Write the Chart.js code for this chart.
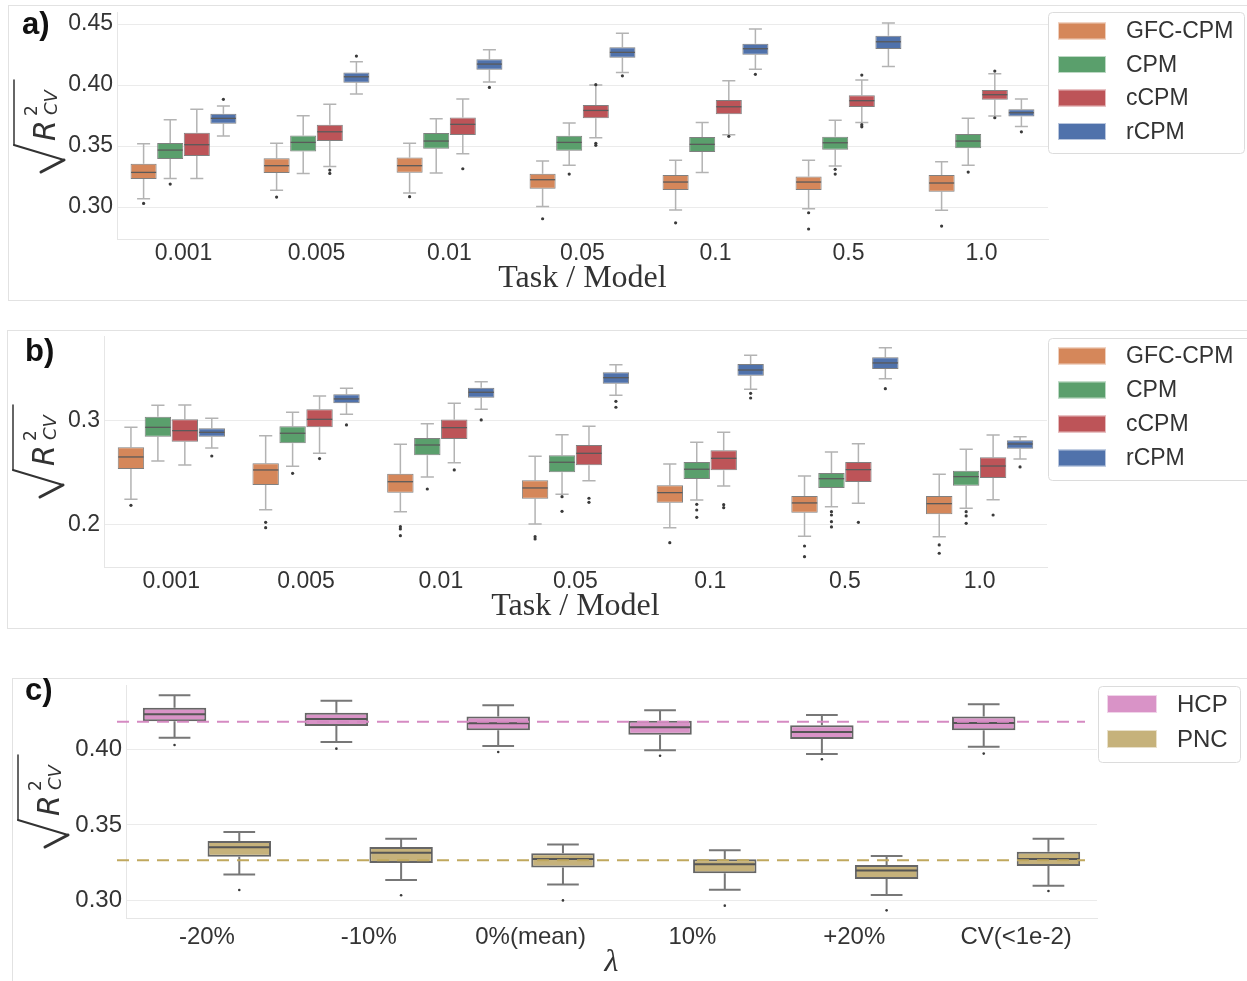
<!DOCTYPE html>
<html>
<head>
<meta charset="utf-8">
<script src="https://cdn.jsdelivr.net/npm/chart.js@4.4.0/dist/chart.umd.min.js"></script>
<style>
    body { margin: 0; background: #fff; width: 1247px; height: 981px; overflow: hidden; position: relative; }
    .frame { position: absolute; border: 1px solid #e2e2e2; box-sizing: border-box; }
    canvas { position: absolute; left: 0; }
</style>
</head>
<body>
<div class="frame" style="left:8px;top:5px;width:1260px;height:296px"></div>
<div class="frame" style="left:7px;top:330px;width:1260px;height:299px"></div>
<div class="frame" style="left:12px;top:678px;width:1260px;height:320px"></div>
<canvas id="chartA" width="1247" height="300" style="top:0"></canvas>
<canvas id="chartB" width="1247" height="298" style="top:330px"></canvas>
<canvas id="chartC" width="1247" height="303" style="top:678px"></canvas>
<script>
// Datos: cada caja = [bigote inf, Q1, mediana, Q3, bigote sup]
const tasks = ['0.001', '0.005', '0.01', '0.05', '0.1', '0.5', '1.0'];
const models = ['GFC-CPM', 'CPM', 'cCPM', 'rCPM'];

// panel a)
const aGfc = [[0.3068,0.3229,0.3284,0.3355,0.3519],[0.3137,0.3279,0.3339,0.3399,0.3522],[0.3115,0.3281,0.3339,0.3407,0.3522],[0.3005,0.3150,0.3224,0.3273,0.3377],[0.2975,0.3139,0.3205,0.3262,0.3383],[0.2986,0.3139,0.3205,0.3251,0.3383],[0.2973,0.3126,0.3197,0.3262,0.3371]];
const aCpm = [[0.3235,0.3393,0.3467,0.3525,0.3716],[0.3276,0.3456,0.3530,0.3587,0.3749],[0.3279,0.3478,0.3541,0.3607,0.3724],[0.3342,0.3461,0.3530,0.3585,0.3688],[0.3284,0.3451,0.3514,0.3574,0.3694],[0.3336,0.3470,0.3527,0.3576,0.3711],[0.3342,0.3481,0.3541,0.3598,0.3727]];
const aCcpm = [[0.3235,0.3418,0.3511,0.3609,0.3801],[0.3333,0.3541,0.3617,0.3675,0.3842],[0.3437,0.3590,0.3678,0.3735,0.3885],[0.3568,0.3727,0.3792,0.3836,0.4000],[0.3593,0.3760,0.3822,0.3877,0.4036],[0.3694,0.3820,0.3872,0.3916,0.4041],[0.3746,0.3880,0.3921,0.3959,0.4093]];
const aRcpm = [[0.3582,0.3683,0.3727,0.3765,0.3828],[0.3926,0.4019,0.4068,0.4104,0.4191],[0.4025,0.4125,0.4172,0.4211,0.4289],[0.4104,0.4224,0.4268,0.4309,0.4424],[0.4129,0.4249,0.4298,0.4339,0.4459],[0.4153,0.4295,0.4355,0.4404,0.4508],[0.3661,0.3743,0.3773,0.3801,0.3885]];
const aGfcOut = [[0.3030],[0.3082],[0.3085],[0.2904],[0.2871],[0.2953,0.2820],[0.2844]];
const aCpmOut = [[0.3188],[],[],[0.3270],[],[0.3309,0.3270],[0.3287]];
const aCcpmOut = [[],[0.3303,0.3276],[0.3314],[0.3522,0.3506,0.4003],[0.3580],[0.3675,0.3658,0.4082],[0.3732,0.4115]];
const aRcpmOut = [[0.3883],[0.4238],[0.3981],[0.4076],[0.4088],[],[0.3617]];
const aTicks = [0.30, 0.35, 0.40, 0.45];

// panel b)
const bGfc = [[0.2247,0.2538,0.2654,0.2747,0.2939],[0.2147,0.2385,0.2529,0.2593,0.2859],[0.2128,0.2311,0.2416,0.2493,0.2776],[0.2010,0.2253,0.2356,0.2430,0.2660],[0.1974,0.2214,0.2311,0.2382,0.2587],[0.1891,0.2118,0.2212,0.2279,0.2471],[0.1888,0.2103,0.2205,0.2279,0.2487]];
const bCpm = [[0.2615,0.2849,0.2939,0.3041,0.3151],[0.2564,0.2786,0.2882,0.2949,0.3083],[0.2462,0.2670,0.2769,0.2837,0.2974],[0.2295,0.2507,0.2603,0.2670,0.2868],[0.2240,0.2442,0.2536,0.2606,0.2795],[0.2176,0.2356,0.2445,0.2500,0.2702],[0.2160,0.2378,0.2465,0.2522,0.2728]];
const bCcpm = [[0.2577,0.2801,0.2907,0.3016,0.3154],[0.2689,0.2939,0.3016,0.3112,0.3240],[0.2599,0.2827,0.2936,0.3013,0.3170],[0.2426,0.2574,0.2689,0.2769,0.2949],[0.2375,0.2526,0.2641,0.2718,0.2891],[0.2209,0.2413,0.2532,0.2606,0.2782],[0.2243,0.2452,0.2567,0.2651,0.2865]];
const bRcpm = [[0.2740,0.2849,0.2891,0.2930,0.3026],[0.3064,0.3170,0.3212,0.3257,0.3314],[0.3112,0.3224,0.3276,0.3320,0.3378],[0.3247,0.3359,0.3416,0.3468,0.3541],[0.3305,0.3436,0.3490,0.3548,0.3632],[0.3407,0.3500,0.3558,0.3612,0.3705],[0.2635,0.2734,0.2779,0.2814,0.2849]];
const bGfcOut = [[0.2189],[0.2026,0.1974],[0.1984,0.1962,0.1897],[0.1888,0.1865],[0.1830],[0.1798,0.1695],[0.1808,0.1728]];
const bCpmOut = [[],[0.2497],[0.2346],[0.2272,0.2131],[0.2199,0.2144,0.2074],[0.2128,0.2096,0.2032,0.1981],[0.2128,0.2087,0.2016]];
const bCcpmOut = [[],[0.2638],[0.2529],[0.2257,0.2218],[0.2195,0.2166],[0.2026],[0.2096]];
const bRcpmOut = [[0.2663],[0.2962],[0.3010],[0.3189,0.3132],[0.3266,0.3221],[0.3311],[0.2558]];
const bTicks = [0.2, 0.3];

// panel c)
const lambdas = ['-20%', '-10%', '0%(mean)', '10%', '+20%', 'CV(<1e-2)'];
const cohorts = ['HCP', 'PNC'];
const cHcp = [[0.4080,0.4189,0.4235,0.4279,0.4362],[0.4051,0.4158,0.4204,0.4246,0.4326],[0.4025,0.4129,0.4175,0.4220,0.4295],[0.3996,0.4100,0.4149,0.4193,0.4262],[0.3971,0.4071,0.4118,0.4162,0.4231],[0.4020,0.4129,0.4178,0.4220,0.4302]];
const cPnc = [[0.3171,0.3289,0.3351,0.3393,0.3453],[0.3134,0.3247,0.3315,0.3353,0.3408],[0.3103,0.3216,0.3273,0.3311,0.3369],[0.3069,0.3178,0.3238,0.3271,0.3331],[0.3034,0.3140,0.3196,0.3233,0.3293],[0.3096,0.3227,0.3273,0.3322,0.3408]];
const cHcpOut = [[0.4031],[0.4007],[0.3985],[0.3960],[0.3936],[0.3974]];
const cPncOut = [[0.3067],[0.3032],[0.2998],[0.2963],[0.2932],[0.3060]];
const cMeans = [0.4186, 0.3265];   // líneas discontinuas
const cTicks = [0.30, 0.35, 0.40];

const modelColors = ['#d5875a', '#5a9f6c', '#bd5458', '#5072ab'];
const cohortColors = ['#d993c7', '#c6b27b'];
const refColors = ['#d58ac2', '#c0a85e'];

// Configuración de decoración por canvas
const deco = {};

function makeSets(names, stats, outs, colors, edge, edgeW) {
    return names.map((name, i) => ({
        label: name,
        data: stats[i].map(s => [s[1], s[3]]),
        stats: stats[i],
        outliers: outs[i],
        backgroundColor: colors[i],
        borderColor: edge,
        borderWidth: edgeW,
        borderSkipped: false,
        categoryPercentage: 0.8,
        barPercentage: 0.98
    }));
}

function drawRadical(ctx, x0, y0) {
    ctx.save();
    ctx.translate(x0, y0);
    ctx.rotate(-Math.PI / 2);
    ctx.strokeStyle = '#333';
    ctx.fillStyle = '#333';
    ctx.lineCap = 'round';
    ctx.lineWidth = 3;
    ctx.beginPath(); ctx.moveTo(3, -23); ctx.lineTo(15, 0); ctx.stroke();
    ctx.lineWidth = 2;
    ctx.beginPath(); ctx.moveTo(15, 0); ctx.lineTo(30, -50); ctx.stroke();
    ctx.lineWidth = 1.5;
    ctx.beginPath(); ctx.moveTo(30, -50); ctx.lineTo(95, -50); ctx.stroke();
    ctx.textAlign = 'left';
    ctx.textBaseline = 'alphabetic';
    ctx.font = 'italic 30px "DejaVu Sans"';
    ctx.fillText('R', 34, -9);
    ctx.font = '17px "DejaVu Sans"';
    ctx.fillText('2', 59, -27);
    ctx.font = 'italic 18px "DejaVu Sans"';
    ctx.fillText('CV', 60, -7);
    ctx.restore();
}

const boxDeco = {
    id: 'boxDeco',
    beforeDatasetsDraw(chart) {
        const d = deco[chart.canvas.id];
        const ctx = chart.ctx, y = chart.scales.y;
        ctx.save();
        ctx.strokeStyle = d.whisker;
        ctx.lineWidth = d.whiskerW;
        chart.data.datasets.forEach((ds, i) => {
            chart.getDatasetMeta(i).data.forEach((bar, j) => {
                const s = ds.stats[j];
                const half = bar.width / 4;
                const pLo = y.getPixelForValue(s[0]), pQ1 = y.getPixelForValue(s[1]);
                const pQ3 = y.getPixelForValue(s[3]), pHi = y.getPixelForValue(s[4]);
                ctx.beginPath();
                ctx.moveTo(bar.x, pQ1); ctx.lineTo(bar.x, pLo);
                ctx.moveTo(bar.x, pQ3); ctx.lineTo(bar.x, pHi);
                ctx.moveTo(bar.x - half, pLo); ctx.lineTo(bar.x + half, pLo);
                ctx.moveTo(bar.x - half, pHi); ctx.lineTo(bar.x + half, pHi);
                ctx.stroke();
            });
        });
        ctx.restore();
    },
    afterDatasetsDraw(chart) {
        const d = deco[chart.canvas.id];
        const ctx = chart.ctx, y = chart.scales.y, area = chart.chartArea;
        ctx.save();
        chart.data.datasets.forEach((ds, i) => {
            chart.getDatasetMeta(i).data.forEach((bar, j) => {
                const pm = y.getPixelForValue(ds.stats[j][2]);
                const w = bar.width / 2 - d.edgeW / 2;
                ctx.strokeStyle = d.median;
                ctx.lineWidth = d.medianW;
                ctx.beginPath(); ctx.moveTo(bar.x - w, pm); ctx.lineTo(bar.x + w, pm); ctx.stroke();
                ctx.fillStyle = '#3a3a3a';
                ds.outliers[j].forEach(v => {
                    ctx.beginPath();
                    ctx.arc(bar.x, y.getPixelForValue(v), d.dotR, 0, Math.PI * 2);
                    ctx.fill();
                });
            });
        });
        // líneas de referencia (media)
        (d.refs || []).forEach((v, k) => {
            const py = y.getPixelForValue(v);
            ctx.strokeStyle = d.refColors[k];
            ctx.lineWidth = 2;
            ctx.setLineDash([12, 8]);
            ctx.beginPath(); ctx.moveTo(area.left - 9, py); ctx.lineTo(area.right - 12, py); ctx.stroke();
        });
        ctx.restore();
    },
    afterDraw(chart) {
        const d = deco[chart.canvas.id];
        const ctx = chart.ctx, area = chart.chartArea;
        ctx.save();
        // leyenda
        const L = d.legend;
        ctx.fillStyle = 'rgba(255,255,255,0.9)';
        ctx.strokeStyle = '#dcdcdc';
        ctx.lineWidth = 1;
        ctx.beginPath();
        ctx.roundRect(L.x0 + 0.5, L.y0 + 0.5, L.x1 - L.x0, L.y1 - L.y0, 4);
        ctx.fill(); ctx.stroke();
        ctx.font = L.font;
        ctx.textBaseline = 'middle';
        ctx.textAlign = 'left';
        chart.data.datasets.forEach((ds, i) => {
            const cy = L.y0 + L.first + i * L.step;
            ctx.fillStyle = ds.backgroundColor;
            ctx.fillRect(L.px, cy - L.ph / 2, L.pw, L.ph);
            ctx.strokeStyle = 'rgba(255,255,255,0.6)';
            ctx.strokeRect(L.px + 0.5, cy - L.ph / 2 + 0.5, L.pw - 1, L.ph - 1);
            ctx.fillStyle = '#333';
            ctx.fillText(ds.label, L.tx, cy + 1);
        });
        // etiqueta del panel
        ctx.fillStyle = '#111';
        ctx.font = 'bold 31px "Liberation Sans"';
        ctx.textBaseline = 'middle';
        ctx.fillText(d.tag, d.tagX, d.tagY);
        // título eje x
        ctx.font = d.xFont;
        ctx.textAlign = 'center';
        ctx.fillStyle = '#333';
        ctx.fillText(d.xTitle, (area.left + area.right) / 2 + d.xShift, d.xY);
        ctx.restore();
        drawRadical(ctx, d.radX, d.radY);
    }
};

function makeChart(id, labels, datasets, yMin, yMax, ticks, digits, lay, fontSize) {
    return new Chart(document.getElementById(id), {
        type: 'bar',
        data: { labels: labels, datasets: datasets },
        plugins: [boxDeco],
        options: {
            responsive: false,
            animation: false,
            devicePixelRatio: 1,
            layout: { padding: { left: 0, right: lay.right, top: lay.top, bottom: 0 } },
            plugins: { legend: { display: false }, tooltip: { enabled: false } },
            scales: {
                x: {
                    grid: { display: false, drawTicks: false },
                    border: { display: true, color: '#e6e6e6' },
                    ticks: { color: '#333', padding: lay.xPad, font: { family: 'Liberation Sans', size: fontSize } },
                    afterFit: s => { s.height = lay.xH; s.paddingLeft = 0; s.paddingRight = 0; }
                },
                y: {
                    min: yMin,
                    max: yMax,
                    grid: { color: '#ebebeb', drawTicks: false },
                    border: { display: true, color: '#e6e6e6' },
                    ticks: {
                        color: '#333', padding: 4,
                        font: { family: 'Liberation Sans', size: fontSize },
                        callback: v => v.toFixed(digits)
                    },
                    afterBuildTicks: s => { s.ticks = ticks.map(v => ({ value: v })); },
                    afterFit: s => { s.width = lay.yW; s.paddingTop = 0; s.paddingBottom = 0; }
                }
            }
        }
    });
}

const legendFour = { x0: 1048, x1: 1262, first: 19, step: 33.5, px: 1058, pw: 48, ph: 17, tx: 1126, font: '23px "Liberation Sans"' };

// Panel a
deco.chartA = {
    whisker: '#b3b3b3', whiskerW: 1.5, median: '#5a5a5a', medianW: 1.3, edgeW: 1, dotR: 1.6,
    legend: Object.assign({}, legendFour, { x0: 1048, x1: 1244, y0: 12, y1: 153 }),
    tag: 'a)', tagX: 22, tagY: 25,
    xTitle: 'Task / Model', xFont: '32px "Liberation Serif"', xShift: 0, xY: 279,
    radX: 64, radY: 175
};
makeChart('chartA', tasks,
    makeSets(models, [aGfc, aCpm, aCcpm, aRcpm], [aGfcOut, aCpmOut, aCcpmOut, aRcpmOut], modelColors, '#808080', 1),
    0.2738, 0.4599, aTicks, 2, { right: 199, top: 12, xH: 61, yW: 117, xPad: 1 }, 23);

// Panel b
deco.chartB = {
    whisker: '#b3b3b3', whiskerW: 1.5, median: '#5a5a5a', medianW: 1.3, edgeW: 1, dotR: 1.6,
    legend: Object.assign({}, legendFour, { x0: 1048, x1: 1262, y0: 8, y1: 150, first: 18, step: 34 }),
    tag: 'b)', tagX: 25, tagY: 22,
    xTitle: 'Task / Model', xFont: '32px "Liberation Serif"', xShift: 0, xY: 277,
    radX: 63, radY: 170
};
makeChart('chartB', tasks,
    makeSets(models, [bGfc, bCpm, bCcpm, bRcpm], [bGfcOut, bCpmOut, bCcpmOut, bRcpmOut], modelColors, '#808080', 1),
    0.1596, 0.3817, bTicks, 1, { right: 200, top: 6, xH: 61, yW: 104, xPad: 1 }, 23);

// Panel c
const cSets = makeSets(cohorts, [cHcp, cPnc], [cHcpOut, cPncOut], cohortColors, '#666666', 2);
deco.chartC = {
    whisker: '#777777', whiskerW: 2, median: '#555555', medianW: 2, edgeW: 2, dotR: 1.3,
    refs: cMeans, refColors: refColors,
    legend: { x0: 1098, x1: 1240, y0: 8, y1: 84, first: 18, step: 35, px: 1107, pw: 50, ph: 18, tx: 1177, font: '24px "Liberation Sans"' },
    tag: 'c)', tagX: 25, tagY: 13,
    xTitle: 'λ', xFont: 'italic 32px "Liberation Serif"', xShift: 0, xY: 285,
    radX: 68, radY: 172
};
makeChart('chartC', lambdas, cSets,
    0.2881, 0.4430, cTicks, 2, { right: 150, top: 7, xH: 63, yW: 126, xPad: 5 }, 24);
</script>
</body>
</html>
